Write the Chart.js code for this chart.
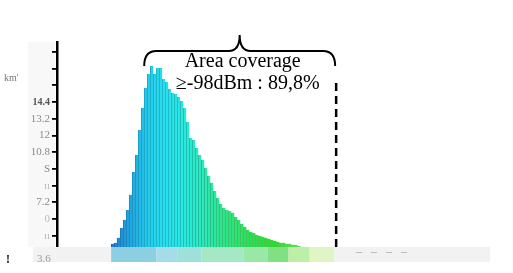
<!DOCTYPE html>
<html><head><meta charset="utf-8">
<script src="https://cdn.jsdelivr.net/npm/chart.js@4/dist/chart.umd.min.js"></script>
<style>html,body{margin:0;padding:0;background:#fff}#wrap{width:513px;height:273px}</style>
</head><body><div id="wrap"><canvas id="c" width="513" height="273"></canvas></div>
<script>
// ---- data ----
const binCount = 144;
const bins = Array.from({length: binCount}, (_, i) => i);
const firstBarBin = 18;
const barValues = [4.23,4.30,4.66,5.37,5.95,6.66,7.74,9.38,10.60,12.39,13.97,15.40,16.40,16.98,16.40,16.83,16.83,16.05,15.83,15.33,15.04,14.97,14.76,14.47,13.97,12.97,11.82,11.68,11.10,10.60,10.24,9.67,9.10,8.60,8.02,7.52,7.09,6.81,6.66,6.59,6.45,6.16,5.95,5.66,5.45,5.23,5.09,5.01,4.87,4.80,4.73,4.66,4.59,4.51,4.44,4.37,4.30,4.30,4.23,4.23,4.16,4.16,4.09];
const yTickValues = [4.8,6,7.2,8.4,9.6,10.8,12,13.2,14.4,15.6,16.8,18];
const yTickLabels = ['ıı','0','7.2','ıı','S','10.8','12','13.2','14.4','','',''];
const thresholdBin = 92;
const braceStartBin = 29;
const annotationLines = ['Area coverage', '\u2265-98dBm : 89,8%'];
const stripBins = [[18,33],[33,40],[40,48],[48,62],[62,70],[70,77],[77,84],[84,92]];
const unitLabel = "km'";
const bottomLabel = '3.6';

// ---- styles ----
const stripColors = ['#8dcfe2','#a6dcea','#9fe0da','#a6e8c6','#9ae8a6','#82e084','#bdf0a6','#dff5c6'];
const colorStops = [[0,[36,124,208]],[6,[34,168,225]],[12,[36,205,236]],[17,[40,222,240]],[24,[42,232,222]],[30,[45,232,185]],[38,[45,230,130]],[46,[42,225,80]],[54,[42,220,42]],[62,[90,230,80]]];
function colorAt(k, f){
  for (let s=0;s<colorStops.length-1;s++){
    const [a,ca]=colorStops[s],[b,cb]=colorStops[s+1];
    if(k>=a && k<=b){const t=(k-a)/(b-a);const c=ca.map((v,j)=>Math.round((v+(cb[j]-v)*t)*f));return `rgb(${c[0]},${c[1]},${c[2]})`;}
  }
  return 'rgb(90,230,80)';
}
const barData = bins.map(i => (i>=firstBarBin && i<firstBarBin+barValues.length) ? barValues[i-firstBarBin] : null);
const barColors = bins.map(i => colorAt(i-firstBarBin, 1));
const barBorders = bins.map(i => colorAt(i-firstBarBin, 0.82));

const serif = '"Liberation Serif", "DejaVu Serif", serif';

const deco = {
  id:'deco',
  beforeDraw(chart){
    const c = chart.ctx, a = chart.chartArea;
    c.save();
    c.fillStyle = '#f8f8f8';
    c.fillRect(28, a.top, a.left-30, a.bottom-a.top);
    c.restore();
  },
  afterDraw(chart){
    const c = chart.ctx, a = chart.chartArea, xs = chart.scales.x;
    const half = (xs.getPixelForValue(1)-xs.getPixelForValue(0))/2;
    c.save();
    // bottom strip
    const sTop = a.bottom, sBot = a.bottom+15;
    c.fillStyle = '#f2f2f2';
    c.fillRect(33, sTop, 457, sBot-sTop);
    stripBins.forEach((r,i)=>{
      const x0 = xs.getPixelForValue(r[0])-half, x1 = xs.getPixelForValue(r[1])-half;
      c.fillStyle = stripColors[i];
      c.fillRect(x0, sTop, x1-x0, sBot-sTop);
    });
    // threshold dashed line
    const xt = xs.getPixelForValue(thresholdBin)+1;
    c.strokeStyle = '#000'; c.lineWidth = 2.5; c.setLineDash([8,5]);
    c.beginPath(); c.moveTo(xt, a.top+41); c.lineTo(xt, a.bottom); c.stroke();
    c.setLineDash([]);
    // brace
    const x0 = xs.getPixelForValue(braceStartBin)-half, x1 = xt-1;
    const xm = (x0+x1)/2, yL = a.top+9, yE = a.top+24, yT = a.top-7;
    c.lineWidth = 2;
    c.beginPath();
    c.moveTo(x0, yE);
    c.quadraticCurveTo(x0, yL, x0+12, yL);
    c.lineTo(xm-11, yL);
    c.quadraticCurveTo(xm, yL, xm, yT);
    c.quadraticCurveTo(xm, yL, xm+11, yL);
    c.lineTo(x1-12, yL);
    c.quadraticCurveTo(x1, yL, x1, yE);
    c.stroke();
    // annotation text
    c.fillStyle = '#000';
    c.font = '20px ' + serif;
    c.textAlign = 'center'; c.textBaseline = 'alphabetic';
    c.fillText(annotationLines[0], xm+3, a.top+25);
    c.fillText(annotationLines[1], xm+8, a.top+47);
    // unit and bottom label
    c.textAlign = 'left';
    c.fillStyle = '#777'; c.font = '10px ' + serif;
    c.fillText(unitLabel, 4, 81);
    c.fillStyle = '#999'; c.font = '11px ' + serif;
    c.fillText(bottomLabel, 37, 262);
    c.fillStyle = '#111'; c.font = 'bold 12px ' + serif;
    c.fillText('!', 6, 263);
    c.fillStyle = '#999'; c.font = '12px ' + serif;
    c.fillText('\u00af   \u00af   \u00af   \u00af', 356, 262);
    c.restore();
  }
};

new Chart(document.getElementById('c'), {
  type: 'bar',
  data: { labels: bins, datasets: [{
    data: barData, backgroundColor: barColors, borderColor: barBorders,
    borderWidth: {left:1, right:0, top:0, bottom:0}, borderSkipped: false,
    barPercentage: 1, categoryPercentage: 1
  }]},
  options: {
    responsive: false, animation: false, devicePixelRatio: 1,
    layout: { padding: { left: 0, top: 42, right: 23, bottom: 26 } },
    plugins: { legend: { display: false }, tooltip: { enabled: false } },
    scales: {
      x: { display: false },
      y: {
        min: 4.0, max: 18.7,
        afterBuildTicks: s => { s.ticks = yTickValues.map(v => ({ value: v })); },
        afterFit: s => { s.width = 57; },
        grid: { drawOnChartArea: false, tickLength: 5, color: '#000', lineWidth: 1.8 },
        border: { color: '#000', width: 2.5 },
        ticks: {
          padding: 2,
          callback: (v, i) => yTickLabels[i],
          color: ctx => { const l = yTickLabels[ctx.index]; return l === '14.4' ? '#555' : (l === 'ıı' || l === '0') ? '#bbb' : '#8a8a8a'; },
          font: ctx => yTickLabels[ctx.index] === '14.4' ? { family: serif, size: 10, weight: 'bold' } : { family: serif, size: 11 }
        }
      }
    }
  },
  plugins: [deco]
});
</script>
</body></html>
